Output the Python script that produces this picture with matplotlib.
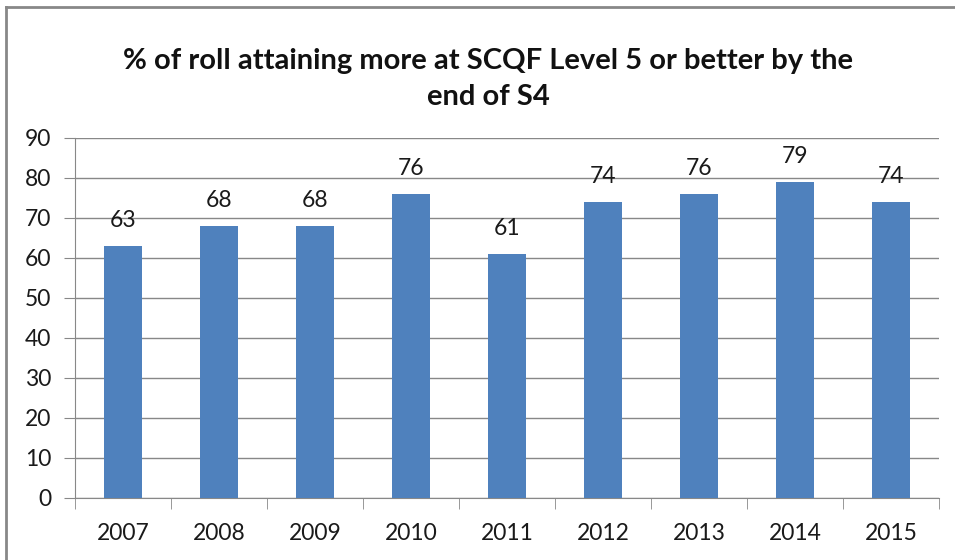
import matplotlib
matplotlib.use("Agg")
import matplotlib.pyplot as plt
from matplotlib.lines import Line2D

years = ["2007", "2008", "2009", "2010", "2011", "2012", "2013", "2014", "2015"]
values = [63, 68, 68, 76, 61, 74, 76, 79, 74]
yticks = [0, 10, 20, 30, 40, 50, 60, 70, 80, 90]
title = "% of roll attaining more at SCQF Level 5 or better by the\nend of S4"

plt.rcParams['font.family'] = ['Lato', 'DejaVu Sans']

W, H = 955, 560
fig = plt.figure(figsize=(W/100, H/100), dpi=100)
ax = fig.add_axes([75/W, (H-498)/H, (939-75)/W, (498-138)/H])

x = list(range(len(years)))
bars = ax.bar(x, values, width=0.4, color="#4F81BD", zorder=3)
for xi, v in zip(x, values):
    ax.text(xi, v + 6.3, str(v), ha="center", va="center", fontsize=16.5, color="#1a1a1a", zorder=4)

ax.set_xlim(-0.5, len(years) - 0.5)
ax.set_ylim(0, 90)
ax.set_yticks(yticks)
ax.set_yticklabels([str(t) for t in yticks])
ax.set_xticks(x)
ax.set_xticklabels(years)
ax.tick_params(axis="x", length=0, labelsize=16.5, pad=18, colors="#1a1a1a")
ax.tick_params(axis="y", length=8, labelsize=16.5, pad=9, colors="#1a1a1a", color="#888888")
ax.yaxis.grid(True, color="#888888", linewidth=1.0, zorder=0)
for s in ["top", "right"]:
    ax.spines[s].set_visible(False)
ax.spines["left"].set_color("#888888")
ax.spines["bottom"].set_color("#888888")
# minor ticks at category boundaries on x axis
ax.set_xticks([i - 0.5 for i in range(len(years) + 1)], minor=True)
ax.tick_params(axis="x", which="minor", length=8, color="#888888", direction="out")

fig.text(488/W, 1 - 79/H, title, ha="center", va="center", fontsize=21,
         fontweight="bold", color="#111111", linespacing=1.45)

# outer chart border (top and left visible)
fig.add_artist(Line2D([6/W, 1.0], [1 - 7/H, 1 - 7/H], transform=fig.transFigure, color="#888888", linewidth=2))
fig.add_artist(Line2D([6/W, 6/W], [0, 1 - 7/H], transform=fig.transFigure, color="#888888", linewidth=2))

fig.savefig("out.png", dpi=100)
